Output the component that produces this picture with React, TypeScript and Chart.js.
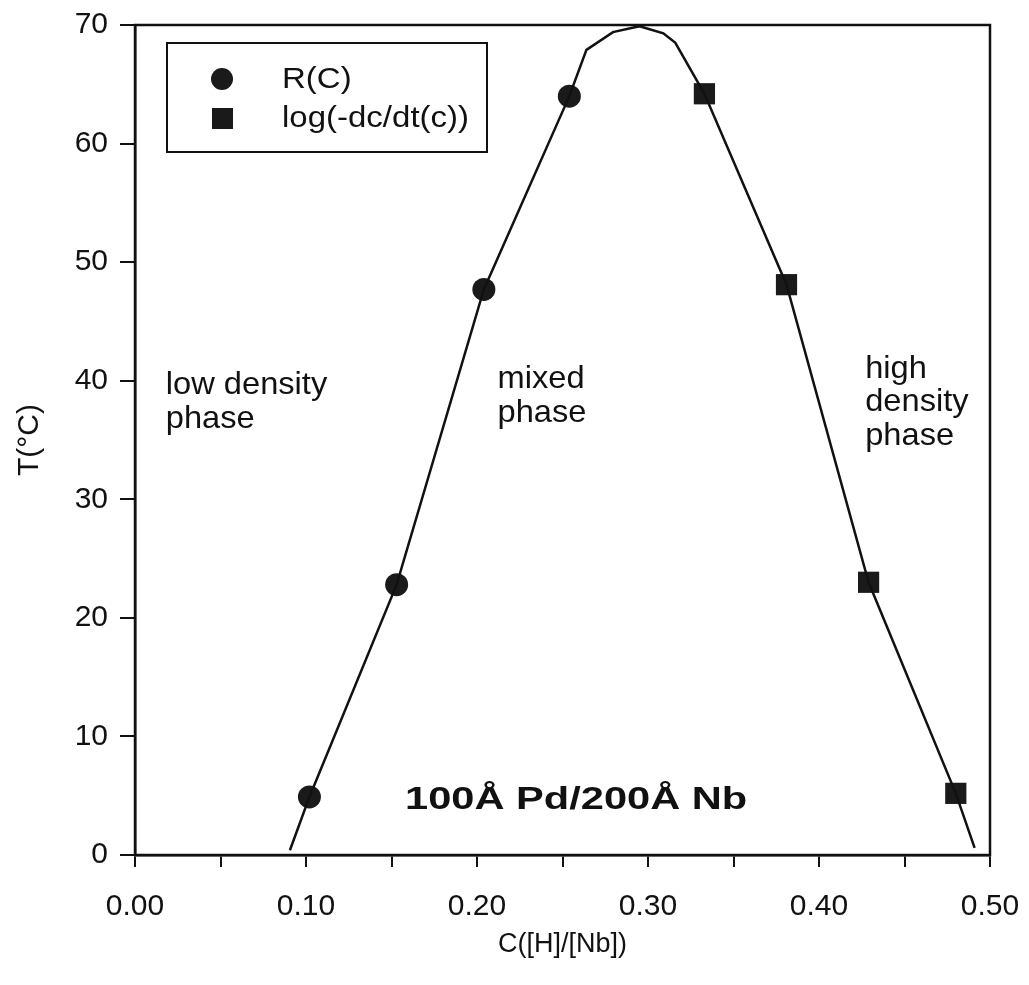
import React, { useEffect, useRef } from "react";
import { Chart, registerables } from "chart.js";

Chart.register(...registerables);

// Data
const rcC = [0.102, 0.153, 0.204, 0.254];
const rcT = [4.9, 22.8, 47.7, 64.0];
const logC = [0.333, 0.381, 0.429, 0.48];
const logT = [64.2, 48.1, 23.0, 5.2];
const fitC = [0.0906, 0.102, 0.153, 0.204, 0.254, 0.264, 0.2795, 0.295, 0.309, 0.316, 0.333, 0.381, 0.429, 0.48, 0.491];
const fitT = [0.4, 4.9, 22.8, 47.7, 64.0, 67.9, 69.4, 69.9, 69.3, 68.5, 64.2, 48.1, 23.0, 5.2, 0.6];
const xTickLabels = ["0.00", "0.10", "0.20", "0.30", "0.40", "0.50"];
const yTickValues = [0, 10, 20, 30, 40, 50, 60, 70];
const legendLabels = ["R(C)", "log(-dc/dt(c))"];
const regionLabels = [
  { lines: ["low density", "phase"], c: 0.018, t: 39.6 },
  { lines: ["mixed", "phase"], c: 0.212, t: 40.1 },
  { lines: ["high", "density", "phase"], c: 0.427, t: 41.0 },
];
const sampleLabel = { text: "100Å Pd/200Å Nb", c: 0.258, t: 4.6 };

const FONT = "'Liberation Sans', Arial, sans-serif";
const INK = "#111";

function stretchedText(ctx: any, text: string, x: number, y: number, sx: number, align: string) {
  ctx.save();
  ctx.translate(x, y);
  ctx.scale(sx, 1);
  ctx.textAlign = align;
  ctx.fillText(text, 0, 0);
  ctx.restore();
}

const overlay = {
  id: "overlay",
  afterDraw(chart: any) {
    const { ctx, chartArea: a, scales } = chart;
    const xs = scales.x;
    const ys = scales.y;
    ctx.save();
    // frame
    ctx.strokeStyle = INK;
    ctx.lineWidth = 2.5;
    ctx.strokeRect(a.left, a.top, a.right - a.left, a.bottom - a.top);

    // region labels
    ctx.fillStyle = INK;
    ctx.font = `32px ${FONT}`;
    ctx.textBaseline = "middle";
    for (const r of regionLabels) {
      const px = xs.getPixelForValue(r.c);
      const py = ys.getPixelForValue(r.t);
      r.lines.forEach((l, i) => stretchedText(ctx, l, px, py + i * 33.5, 1.02, "left"));
    }
    ctx.font = `bold 32px ${FONT}`;
    stretchedText(ctx, sampleLabel.text, xs.getPixelForValue(sampleLabel.c), ys.getPixelForValue(sampleLabel.t), 1.3, "center");

    // legend box
    const bx = a.left + 32;
    const by = a.top + 18;
    ctx.lineWidth = 2;
    ctx.strokeRect(bx, by, 320, 109);
    ctx.fillStyle = "#1a1a1a";
    ctx.beginPath();
    ctx.arc(bx + 55, by + 36, 11, 0, Math.PI * 2);
    ctx.fill();
    ctx.fillRect(bx + 45, by + 65, 21, 21);
    ctx.fillStyle = INK;
    ctx.font = `30px ${FONT}`;
    stretchedText(ctx, legendLabels[0], bx + 115, by + 37, 1.1, "left");
    stretchedText(ctx, legendLabels[1], bx + 115, by + 76, 1.1, "left");
    ctx.restore();
  },
};

export default function App() {
  const ref = useRef<HTMLCanvasElement>(null);
  useEffect(() => {
    if (!ref.current) return;
    const chart = new Chart(ref.current, {
      type: "scatter",
      data: {
        datasets: [
          {
            label: "fit",
            data: fitC.map((c, i) => ({ x: c, y: fitT[i] })),
            showLine: true,
            borderColor: INK,
            borderWidth: 2.5,
            pointRadius: 0,
            tension: 0,
          },
          {
            label: legendLabels[0],
            data: rcC.map((c, i) => ({ x: c, y: rcT[i] })),
            pointStyle: "circle",
            pointRadius: 11.5,
            backgroundColor: "#1a1a1a",
            borderColor: "#1a1a1a",
            borderWidth: 0,
          },
          {
            label: legendLabels[1],
            data: logC.map((c, i) => ({ x: c, y: logT[i] })),
            pointStyle: "rect",
            pointRadius: 15,
            backgroundColor: "#1a1a1a",
            borderColor: "#1a1a1a",
            borderWidth: 0,
          },
        ],
      },
      options: {
        animation: false,
        responsive: false,
        layout: { padding: { left: 0, top: 25, right: 39, bottom: 0 } },
        plugins: { legend: { display: false }, tooltip: { enabled: false } },
        scales: {
          x: {
            type: "linear",
            min: 0,
            max: 0.5,
            afterFit(s: any) {
              s.height = 130;
              s.paddingLeft = 0;
              s.paddingRight = 0;
            },
            ticks: {
              stepSize: 0.05,
              color: INK,
              padding: 22,
              font: { family: FONT, size: 30 },
              callback: (v: any) => {
                const idx = Math.round(Number(v) * 20);
                return idx % 2 === 0 ? xTickLabels[idx / 2] : "";
              },
              maxRotation: 0,
              autoSkip: false,
            },
            grid: { drawOnChartArea: false, drawTicks: true, tickLength: 12, color: INK, lineWidth: 2 },
            border: { display: true, color: INK, width: 2.5 },
            title: {
              display: true,
              text: "C([H]/[Nb])",
              color: INK,
              font: { family: FONT, size: 27 },
              padding: { top: 0, bottom: 24 },
            },
          },
          y: {
            type: "linear",
            min: 0,
            max: 70,
            afterFit(s: any) {
              s.width = 135;
              s.paddingTop = 0;
              s.paddingBottom = 0;
            },
            afterBuildTicks(s: any) {
              s.ticks = yTickValues.map((v) => ({ value: v }));
            },
            ticks: {
              color: INK,
              padding: 12,
              font: { family: FONT, size: 30 },
            },
            grid: { drawOnChartArea: false, drawTicks: true, tickLength: 15, color: INK, lineWidth: 2 },
            border: { display: true, color: INK, width: 2.5 },
            title: {
              display: true,
              text: "T(°C)",
              color: INK,
              font: { family: FONT, size: 30 },
              padding: { top: 12, bottom: 0 },
            },
          },
        },
      },
      plugins: [overlay],
    });
    return () => chart.destroy();
  }, []);
  return (
    <div style={{ position: "fixed", left: 0, top: 0, width: 1029, height: 985, background: "#fff" }}>
      <canvas ref={ref} width={1029} height={985} style={{ display: "block" }} />
    </div>
  );
}
